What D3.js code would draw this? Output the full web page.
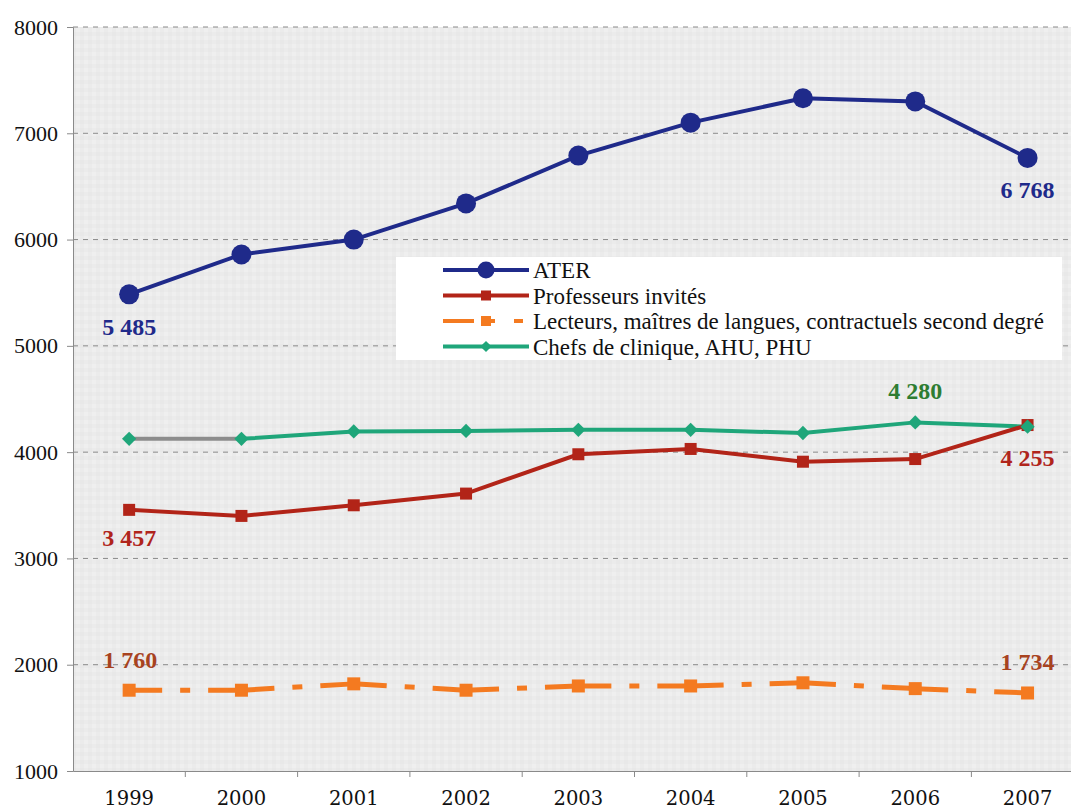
<!DOCTYPE html>
<html>
<head>
<meta charset="utf-8">
<script src="https://cdn.jsdelivr.net/npm/d3@7"></script>
<style>
  body { margin: 0; background: #fff; }
</style>
</head>
<body>
<div id="chart"></div>
<script>
// Data
const years = ["1999", "2000", "2001", "2002", "2003", "2004", "2005", "2006", "2007"];
const ater = [5485, 5860, 6000, 6340, 6790, 7100, 7330, 7300, 6768];
const professeurs = [3457, 3400, 3500, 3610, 3980, 4030, 3910, 3935, 4255];
const lecteurs = [1760, 1760, 1820, 1760, 1800, 1800, 1830, 1775, 1734];
const chefs = [4125, 4125, 4195, 4200, 4210, 4210, 4180, 4280, 4240];
const yTicks = [1000, 2000, 3000, 4000, 5000, 6000, 7000, 8000];

const seriesNames = ["ATER", "Professeurs invités", "Lecteurs, maîtres de langues, contractuels second degré", "Chefs de clinique, AHU, PHU"];

// value labels: series index, year index, text, offset
const valueLabels = [
    {s: 0, i: 0, text: "5 485", dx: 0, dy: 41, color: "#1f2a8a"},
    {s: 0, i: 8, text: "6 768", dx: 0, dy: 40, color: "#1f2a8a"},
    {s: 1, i: 0, text: "3 457", dx: 0, dy: 36, color: "#b0241b"},
    {s: 1, i: 8, text: "4 255", dx: 0, dy: 41, color: "#b0241b"},
    {s: 2, i: 0, text: "1 760", dx: 1, dy: -22, color: "#a8431f"},
    {s: 2, i: 8, text: "1 734", dx: 0, dy: -23, color: "#a8431f"},
    {s: 3, i: 7, text: "4 280", dx: 0, dy: -23, color: "#2e7d32"}
];

const serif = "'Liberation Serif', 'Times New Roman', Times, serif";

const W = 1071, H = 811;
const margin = {top: 27, left: 73, bottom: 40};
const bandW = 112.3;

const svg = d3.select("#chart").append("svg")
    .attr("width", W)
    .attr("height", H)
    .style("font-family", serif);

// Scales
const x = d3.scaleBand()
    .domain(years)
    .range([margin.left, margin.left + bandW * years.length]);

const y = d3.scaleLinear()
    .domain([1000, 8000])
    .range([H - margin.bottom, margin.top]);

const plotBottom = y(1000);

// Background
const defs = svg.append("defs");
const pat = defs.append("pattern")
    .attr("id", "bgpat")
    .attr("width", 8).attr("height", 8)
    .attr("patternUnits", "userSpaceOnUse");
pat.append("rect").attr("width", 8).attr("height", 8).attr("fill", "#ebebeb");
pat.append("rect").attr("width", 4).attr("height", 4).attr("fill", "#e8e8e8");
pat.append("rect").attr("x", 4).attr("y", 4).attr("width", 4).attr("height", 4).attr("fill", "#efefef");

svg.append("rect")
    .attr("x", margin.left)
    .attr("y", margin.top)
    .attr("width", W - margin.left)
    .attr("height", plotBottom - margin.top)
    .attr("fill", "url(#bgpat)");

// Gridlines
svg.append("g")
    .selectAll("line")
    .data(yTicks.filter(d => d > 1000))
    .enter()
    .append("line")
    .attr("x1", margin.left)
    .attr("x2", W)
    .attr("y1", d => y(d))
    .attr("y2", d => y(d))
    .attr("stroke", "#8a8a8a")
    .attr("stroke-width", 1)
    .attr("stroke-dasharray", "5,5");

// Y axis
const yAxis = d3.axisLeft(y)
    .tickValues(yTicks)
    .tickSize(6)
    .tickFormat(d3.format("d"));

const gy = svg.append("g")
    .attr("transform", "translate(" + margin.left + ",0)")
    .call(yAxis)
    .attr("font-family", null);
gy.select(".domain").attr("stroke", "#8a8a8a");
gy.selectAll(".tick line").attr("stroke", "#8a8a8a");
gy.selectAll(".tick text")
    .attr("x", -15)
    .style("font-family", serif)
    .style("font-size", "22px")
    .attr("fill", "#111");

// X axis
const xAxis = d3.axisBottom(x).tickSize(0);
const gx = svg.append("g")
    .attr("transform", "translate(0," + plotBottom + ")")
    .call(xAxis)
    .attr("font-family", null);
gx.select(".domain").attr("stroke", "#8a8a8a");
gx.selectAll(".tick text")
    .attr("dy", 0)
    .attr("y", 34)
    .style("font-family", "'DejaVu Serif', serif")
    .style("font-size", "19.5px")
    .attr("fill", "#111");

// Category boundary ticks
svg.append("g")
    .selectAll("line")
    .data(years.slice(1))
    .enter()
    .append("line")
    .attr("x1", d => x(d))
    .attr("x2", d => x(d))
    .attr("y1", plotBottom)
    .attr("y2", plotBottom + 6)
    .attr("stroke", "#8a8a8a");

const cx = d => x(d) + x.bandwidth() / 2;

// Line helper
const line = d3.line()
    .x((d, i) => cx(years[i]))
    .y(d => y(d));

// Chefs de clinique: first segment grey, rest green
const chefsG = svg.append("g");
chefsG.append("path")
    .datum(chefs.slice(0, 2))
    .attr("d", d3.line().x((d, i) => cx(years[i])).y(d => y(d)))
    .attr("fill", "none")
    .attr("stroke", "#8c8c8c")
    .attr("stroke-width", 4);
chefsG.append("path")
    .datum(chefs.slice(1))
    .attr("d", d3.line().x((d, i) => cx(years[i + 1])).y(d => y(d)))
    .attr("fill", "none")
    .attr("stroke", "#1fa67a")
    .attr("stroke-width", 4);

// Professeurs invités
svg.append("path")
    .datum(professeurs)
    .attr("d", line)
    .attr("fill", "none")
    .attr("stroke", "#b22418")
    .attr("stroke-width", 4);

// Lecteurs: dash pattern restarts per segment
const lectSeg = d3.pairs(lecteurs.map((v, i) => ({v: v, i: i})));
svg.append("g")
    .selectAll("line")
    .data(lectSeg)
    .enter()
    .append("line")
    .attr("x1", d => cx(years[d[0].i]))
    .attr("y1", d => y(d[0].v))
    .attr("x2", d => cx(years[d[1].i]))
    .attr("y2", d => y(d[1].v))
    .attr("stroke", "#f47a20")
    .attr("stroke-width", 5)
    .attr("stroke-dasharray", "33,18,10,18");

// ATER
svg.append("path")
    .datum(ater)
    .attr("d", line)
    .attr("fill", "none")
    .attr("stroke", "#1f2a8a")
    .attr("stroke-width", 4);

// Markers
svg.append("g")
    .selectAll("rect")
    .data(lecteurs)
    .enter()
    .append("rect")
    .attr("x", (d, i) => cx(years[i]) - 6.5)
    .attr("y", d => y(d) - 6.5)
    .attr("width", 13)
    .attr("height", 13)
    .attr("fill", "#f47a20");

svg.append("g")
    .selectAll("rect")
    .data(professeurs)
    .enter()
    .append("rect")
    .attr("x", (d, i) => cx(years[i]) - 6)
    .attr("y", d => y(d) - 6)
    .attr("width", 12)
    .attr("height", 12)
    .attr("fill", "#b22418");

svg.append("g")
    .selectAll("path")
    .data(chefs)
    .enter()
    .append("path")
    .attr("d", d3.symbol().type(d3.symbolDiamond2).size(130))
    .attr("transform", (d, i) => "translate(" + cx(years[i]) + "," + y(d) + ")")
    .attr("fill", "#1fa67a");

svg.append("g")
    .selectAll("circle")
    .data(ater)
    .enter()
    .append("circle")
    .attr("cx", (d, i) => cx(years[i]))
    .attr("cy", d => y(d))
    .attr("r", 10)
    .attr("fill", "#1f2a8a");

// Value labels
const allSeries = [ater, professeurs, lecteurs, chefs];
svg.append("g")
    .selectAll("text")
    .data(valueLabels)
    .enter()
    .append("text")
    .attr("x", d => cx(years[d.i]) + d.dx)
    .attr("y", d => y(allSeries[d.s][d.i]) + d.dy)
    .attr("text-anchor", "middle")
    .style("font-family", serif)
    .style("font-size", "24px")
    .attr("font-weight", "bold")
    .attr("fill", d => d.color)
    .text(d => d.text);

// Legend
const legend = svg.append("g").attr("transform", "translate(396,257)");
legend.append("rect")
    .attr("width", 666)
    .attr("height", 103)
    .attr("fill", "#fff");

const legendStyles = [
    {color: "#1f2a8a", marker: "circle", dash: null},
    {color: "#b22418", marker: "square", dash: null},
    {color: "#f47a20", marker: "square", dash: "31,12,9,19,9"},
    {color: "#1fa67a", marker: "diamond", dash: null}
];

const items = legend.selectAll(".legend-item")
    .data(seriesNames)
    .enter()
    .append("g")
    .attr("class", "legend-item")
    .attr("transform", (d, i) => "translate(0," + (13 + i * 25.5) + ")");

items.append("line")
    .attr("x1", 47)
    .attr("x2", 133)
    .attr("stroke", (d, i) => legendStyles[i].color)
    .attr("stroke-width", 4)
    .attr("stroke-dasharray", (d, i) => legendStyles[i].dash);

items.each(function(d, i) {
    const g = d3.select(this);
    const st = legendStyles[i];
    if (st.marker === "circle") {
        g.append("circle").attr("cx", 90).attr("r", 8.5).attr("fill", st.color);
    } else if (st.marker === "square") {
        const s = 10;
        g.append("rect").attr("x", 90 - s / 2).attr("y", -s / 2)
            .attr("width", s).attr("height", s).attr("fill", st.color);
    } else {
        g.append("path")
            .attr("d", d3.symbol().type(d3.symbolDiamond2).size(80))
            .attr("transform", "translate(90,0)")
            .attr("fill", st.color);
    }
});

items.append("text")
    .attr("x", 137)
    .attr("dy", "0.35em")
    .style("font-family", serif)
    .style("font-size", "23px")
    .attr("fill", "#111")
    .text(d => d);
</script>
</body>
</html>
